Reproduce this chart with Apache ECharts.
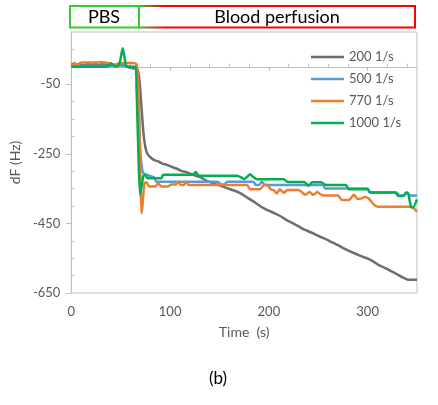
<!DOCTYPE html>
<html>
<head>
<meta charset="utf-8">
<script src="https://cdn.jsdelivr.net/npm/echarts@6/dist/echarts.min.js"></script>
<style>
html,body{margin:0;padding:0;background:#fff;}
#chart{width:438px;height:405px;}
</style>
</head>
<body>
<div id="chart"></div>
<script>
// ---- data (time in s, dF in Hz) ----
const seriesNames = ['200 1/s', '500 1/s', '770 1/s', '1000 1/s'];
const xMajorTicks = [0, 100, 200, 300];
const xMinorTicks = [20, 40, 60, 80, 120, 140, 160, 180, 220, 240, 260, 280, 320, 340];
const yMajorTicks = [-650, -450, -250, -50];
const yMinorTicks = [-600, -550, -500, -400, -350, -300, -200, -150, -100, 0, 50];

const gray200 = [[0,8],[4,4],[8,9],[12,4],[16,9],[20,5],[24,9],[28,5],[32,9],[36,5],[40,8],[44,5],[48,8],[52,5],[56,1],[60,-3],[64,-5],[67,-8],[69,-40],[71,-115],[73,-190],[75,-232],[77,-250],[80,-260],[84,-268],[88,-272],[92,-278],[97,-282],[102,-288],[107,-293],[111,-299],[116,-302],[121,-308],[126,-313],[131,-318],[136,-326],[141,-332],[146,-337],[151,-342],[156,-347],[161,-352],[166,-357],[171,-363],[176,-372],[181,-381],[186,-390],[191,-400],[196,-408],[201,-415],[206,-421],[211,-428],[216,-437],[221,-445],[226,-452],[231,-460],[236,-468],[241,-474],[246,-480],[251,-487],[256,-493],[261,-500],[266,-507],[271,-514],[276,-522],[281,-529],[286,-535],[291,-541],[296,-547],[301,-552],[306,-560],[311,-569],[316,-576],[321,-583],[326,-590],[331,-598],[336,-606],[340,-611],[345,-612],[350,-612]];

const blue500 = [[0,3],[10,3],[20,2],[30,3],[40,2],[50,3],[56,2],[60,0],[64,-2],[66,-4],[68,-100],[70,-250],[72,-300],[74,-308],[78,-312],[84,-318],[86,-330],[148,-330],[152,-338],[155,-338],[158,-330],[184,-330],[187,-340],[190,-340],[193,-330],[196,-340],[255,-340],[257,-350],[300,-350],[302,-361],[329,-361],[332,-370],[337,-370],[340,-361],[343,-370],[350,-370]];

const orange770 = [[0,5],[3,11],[6,4],[10,12],[20,12],[30,13],[36,12],[40,9],[44,5],[48,10],[56,11],[62,11],[66,7],[68,-60],[70,-330],[71,-421],[72,-400],[74,-335],[76,-332],[79,-344],[85,-344],[88,-335],[91,-344],[98,-344],[101,-338],[106,-338],[108,-330],[111,-340],[114,-340],[116,-330],[119,-340],[178,-340],[181,-352],[191,-352],[195,-340],[198,-340],[202,-352],[205,-355],[208,-364],[211,-352],[215,-362],[219,-354],[230,-354],[237,-368],[241,-360],[245,-368],[249,-360],[254,-369],[270,-370],[274,-383],[281,-383],[286,-368],[290,-380],[294,-378],[297,-374],[301,-378],[306,-395],[310,-402],[344,-402],[350,-416]];

const green1000 = [[0,0],[35,0],[38,4],[40,10],[43,4],[46,0],[49,12],[52,53],[54,25],[56,0],[65,0],[66,-60],[68,-260],[69.5,-368],[71,-345],[73,-313],[75,-311],[77,-320],[91,-320],[93,-310],[123,-310],[126,-302],[129,-313],[168,-313],[172,-318],[175,-323],[178,-316],[181,-309],[184,-316],[188,-323],[215,-323],[219,-331],[236,-331],[240,-342],[244,-332],[253,-332],[258,-340],[278,-340],[281,-352],[300,-352],[303,-361],[328,-361],[331,-371],[336,-371],[339,-361],[341,-364],[344,-403],[346,-404],[350,-381]];

const seriesData = [gray200, blue500, orange770, green1000];
const colors = ['#6e6e6e', '#5b9bd5', '#ed7d31', '#00b050'];

const FONT = 'Lato, "Liberation Sans", sans-serif';
const axisGray = '#bfbfbf';
const textGray = '#595959';

const chart = echarts.init(document.getElementById('chart'), null, {renderer: 'canvas'});

const option = {
  animation: false,
  backgroundColor: '#ffffff',
  textStyle: {fontFamily: FONT},
  grid: {left: 69, right: 21, top: 32, bottom: 112, show: true, borderColor: axisGray, borderWidth: 1},
  legend: {
    data: seriesNames,
    orient: 'vertical',
    left: 306, top: 45,
    icon: 'rect',
    itemWidth: 33, itemHeight: 2.5, itemGap: 8,
    textStyle: {color: textGray, fontSize: 13, lineHeight: 14, fontFamily: FONT}
  },
  xAxis: [
    {
      type: 'value', min: 0, max: 350, position: 'bottom',
      name: 'Time  (s)', nameLocation: 'middle', nameGap: 32,
      nameTextStyle: {color: textGray, fontSize: 14, fontFamily: FONT},
      axisLine: {show: true, lineStyle: {color: axisGray, width: 1}},
      axisTick: {show: true, customValues: xMajorTicks, length: 4, lineStyle: {color: axisGray}},
      axisLabel: {customValues: xMajorTicks, color: textGray, fontSize: 13, margin: 12, fontFamily: FONT},
      splitLine: {show: false}
    },
    {
      type: 'value', min: 0, max: 350, position: 'bottom',
      axisLine: {show: false},
      axisTick: {show: true, inside: true, customValues: xMinorTicks, length: 3, lineStyle: {color: axisGray}},
      axisLabel: {show: false},
      splitLine: {show: false}
    }
  ],
  yAxis: [
    {
      type: 'value', min: -650, max: 100, position: 'left',
      name: 'dF (Hz)', nameLocation: 'middle', nameGap: 47, nameRotate: 90,
      nameTextStyle: {color: textGray, fontSize: 14, fontFamily: FONT},
      axisLine: {show: true, lineStyle: {color: axisGray, width: 1}},
      axisTick: {show: true, customValues: yMajorTicks, length: 5, lineStyle: {color: axisGray}},
      axisLabel: {customValues: yMajorTicks, color: textGray, fontSize: 13, margin: 11, fontFamily: FONT},
      splitLine: {show: false}
    },
    {
      type: 'value', min: -650, max: 100, position: 'left',
      axisLine: {show: false},
      axisTick: {show: true, inside: true, customValues: yMinorTicks, length: 3, lineStyle: {color: axisGray}},
      axisLabel: {show: false},
      splitLine: {show: false}
    }
  ],
  series: seriesNames.map((name, i) => ({
    name: name,
    type: 'line',
    xAxisIndex: 0, yAxisIndex: 0,
    data: seriesData[i],
    symbol: 'none',
    smooth: 0.2,
    lineStyle: {color: colors[i], width: 2.5},
    itemStyle: {color: colors[i]},
    z: 2 + i
  })),
  graphic: [
    {
      type: 'rect', z: 10,
      shape: {x: 139, y: 6, width: 276, height: 21.5},
      style: {
        fill: 'none', lineWidth: 2,
        stroke: new echarts.graphic.LinearGradient(0, 0, 1, 0, [
          {offset: 0, color: '#33cc33'},
          {offset: 0.1, color: '#ff0000'},
          {offset: 1, color: '#ff0000'}
        ])
      }
    },
    {
      type: 'rect', z: 11,
      shape: {x: 70, y: 6, width: 69, height: 21.5},
      style: {fill: 'none', stroke: '#33cc33', lineWidth: 2}
    },
    {
      type: 'text', z: 12, x: 104, y: 17,
      style: {text: 'PBS', fill: '#000', font: '18px ' + FONT, textAlign: 'center', textVerticalAlign: 'middle'}
    },
    {
      type: 'text', z: 12, x: 277, y: 17,
      style: {text: 'Blood perfusion', fill: '#000', font: '18px ' + FONT, textAlign: 'center', textVerticalAlign: 'middle'}
    },
    {
      type: 'text', z: 12, x: 218, y: 379,
      style: {text: '(b)', fill: '#000', font: '17px ' + FONT, textAlign: 'center', textVerticalAlign: 'middle'}
    }
  ]
};
chart.setOption(option);
</script>
</body>
</html>
